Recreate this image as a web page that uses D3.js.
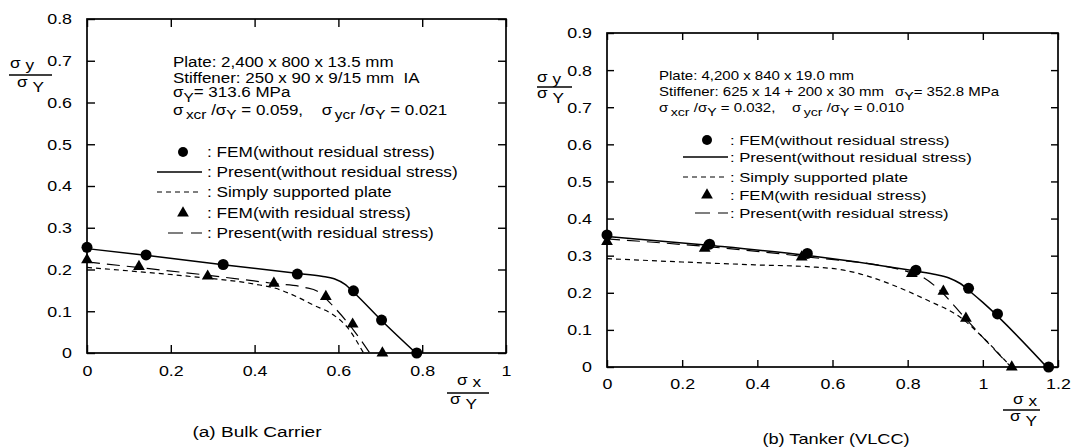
<!DOCTYPE html>
<html>
<head>
<meta charset="utf-8">
<script src="https://cdn.jsdelivr.net/npm/d3@7"></script>
<style>
  body { margin: 0; background: #fff; }
  svg text { white-space: pre; }
</style>
</head>
<body>
<svg id="chart" width="1072" height="448"></svg>
<script>
// ---- data ----
const xTicksA = [0, 0.2, 0.4, 0.6, 0.8, 1];
const yTicksA = [0, 0.1, 0.2, 0.3, 0.4, 0.5, 0.6, 0.7, 0.8];
const xTicksB = [0, 0.2, 0.4, 0.6, 0.8, 1, 1.2];
const yTicksB = [0, 0.1, 0.2, 0.3, 0.4, 0.5, 0.6, 0.7, 0.8, 0.9];

// (a) Bulk carrier
const femNoResA = [[0, 0.253], [0.141, 0.235], [0.325, 0.212], [0.502, 0.189], [0.636, 0.149], [0.703, 0.079], [0.787, 0]];
const presentNoResA = [[0, 0.25], [0.14, 0.234], [0.33, 0.211], [0.5, 0.191], [0.56, 0.184], [0.59, 0.178], [0.615, 0.165], [0.64, 0.142], [0.7, 0.081], [0.785, 0]];
const femResA = [[0, 0.223], [0.124, 0.207], [0.288, 0.184], [0.446, 0.167], [0.57, 0.135], [0.634, 0.069], [0.705, 0]];
const presentResA = [[0, 0.218], [0.13, 0.204], [0.29, 0.186], [0.45, 0.166], [0.52, 0.157], [0.55, 0.148], [0.58, 0.12], [0.636, 0.055], [0.675, 0]];
const simplyA = [[0, 0.205], [0.12, 0.195], [0.25, 0.183], [0.4, 0.165], [0.45, 0.155], [0.5, 0.135], [0.54, 0.115], [0.59, 0.09], [0.62, 0.063], [0.66, 0]];

// (b) Tanker (VLCC)
const femNoResB = [[0, 0.356], [0.273, 0.331], [0.533, 0.306], [0.822, 0.261], [0.962, 0.212], [1.039, 0.143], [1.175, 0]];
const presentNoResB = [[0, 0.352], [0.27, 0.328], [0.53, 0.301], [0.8, 0.262], [0.87, 0.25], [0.91, 0.24], [0.94, 0.225], [0.97, 0.2], [1.0, 0.174], [1.17, 0]];
const femResB = [[0, 0.338], [0.26, 0.32], [0.518, 0.296], [0.811, 0.252], [0.895, 0.204], [0.955, 0.131], [1.077, 0]];
const presentResB = [[0, 0.345], [0.26, 0.325], [0.52, 0.298], [0.8, 0.257], [0.84, 0.242], [0.88, 0.212], [0.95, 0.135], [1.0, 0.08], [1.075, 0]];
const simplyB = [[0, 0.292], [0.2, 0.283], [0.4, 0.275], [0.54, 0.27], [0.63, 0.261], [0.7, 0.243], [0.76, 0.221], [0.85, 0.181], [0.94, 0.134], [1.01, 0.07], [1.075, 0]];

const FONT = "'Liberation Sans', Arial, Helvetica, sans-serif";
const SX = 1.23;   // the scanned lettering is wider than the font
const INK = '#000';

const svg = d3.select('#chart');
svg.append('rect').attr('width', 1072).attr('height', 448).attr('fill', '#fff');

// text with sub/superscript parts
function label(x, y, parts, size, anchor) {
  const t = svg.append('text')
    .attr('transform', `translate(${x},${y}) scale(${SX},1)`)
    .attr('font-family', FONT)
    .attr('font-size', size)
    .attr('text-anchor', anchor || 'start')
    .attr('fill', INK);
  parts.forEach(p => {
    if (typeof p === 'string') t.append('tspan').text(p);
    else t.append('tspan')
      .attr('dy', p.dy || 0)
      .attr('dx', p.dx || 0)
      .attr('font-size', p.size || size)
      .text(p.t);
  });
  return t;
}

function drawPanel(cfg) {
  const x = d3.scaleLinear().domain(cfg.xDomain).range([cfg.left, cfg.right]);
  const y = d3.scaleLinear().domain(cfg.yDomain).range([cfg.bottom, cfg.top]);
  const g = svg.append('g');

  const inner = cfg.tick;
  const styleAxis = sel => {
    sel.select('.domain').remove();
    sel.selectAll('line').attr('stroke', INK).attr('stroke-width', 1.4);
  };

  g.append('g').attr('transform', `translate(0,${cfg.bottom})`)
    .call(d3.axisBottom(x).tickValues(cfg.xTicks).tickSize(-inner).tickFormat(d => d))
    .call(styleAxis)
    .call(s => s.selectAll('text')
      .attr('font-family', FONT).attr('font-size', 14.5).attr('fill', INK)
      .attr('y', cfg.xLabelGap).attr('dy', '0.71em')
      .attr('transform', `scale(${SX},1)`));

  g.append('g').attr('transform', `translate(${cfg.left},0)`)
    .call(d3.axisLeft(y).tickValues(cfg.yTicks).tickSize(-inner).tickFormat(d => d))
    .call(styleAxis)
    .call(s => s.selectAll('text')
      .attr('font-family', FONT).attr('font-size', 14.5).attr('fill', INK)
      .attr('x', -15 / SX).attr('dy', '0.34em')
      .attr('transform', `scale(${SX},1)`));

  g.append('g').attr('transform', `translate(0,${cfg.top})`)
    .call(d3.axisTop(x).tickValues(cfg.xTicks).tickSize(-inner).tickFormat(''))
    .call(styleAxis);

  g.append('g').attr('transform', `translate(${cfg.right},0)`)
    .call(d3.axisRight(y).tickValues(cfg.yTicks).tickSize(-inner).tickFormat(''))
    .call(styleAxis);

  g.append('rect')
    .attr('x', cfg.left).attr('y', cfg.top)
    .attr('width', cfg.right - cfg.left).attr('height', cfg.bottom - cfg.top)
    .attr('fill', 'none').attr('stroke', INK).attr('stroke-width', 1.7);

  const line = d3.line().x(d => x(d[0])).y(d => y(d[1])).curve(d3.curveMonotoneX);

  g.append('path').datum(cfg.simply).attr('d', line)
    .attr('fill', 'none').attr('stroke', INK).attr('stroke-width', 1.2).attr('stroke-dasharray', '5,4');
  g.append('path').datum(cfg.presentRes).attr('d', line)
    .attr('fill', 'none').attr('stroke', INK).attr('stroke-width', 1.2).attr('stroke-dasharray', '13,7');
  g.append('path').datum(cfg.presentNoRes).attr('d', line)
    .attr('fill', 'none').attr('stroke', INK).attr('stroke-width', 1.5);

  g.selectAll('.fem').data(cfg.femNoRes).enter().append('circle')
    .attr('class', 'fem')
    .attr('cx', d => x(d[0])).attr('cy', d => y(d[1]))
    .attr('r', 5.5).attr('fill', INK);

  const tri = d3.symbol(d3.symbolTriangle, 60);
  g.selectAll('.femres').data(cfg.femRes).enter().append('path')
    .attr('class', 'femres')
    .attr('d', tri)
    .attr('transform', d => `translate(${x(d[0])},${y(d[1])})`)
    .attr('fill', INK);

  // legend
  const L = cfg.legend;
  const textSize = cfg.legendSize;
  g.append('circle').attr('cx', L.mark).attr('cy', L.rows[0]).attr('r', 5).attr('fill', INK);
  g.append('line').attr('x1', L.lineFrom).attr('x2', L.lineTo).attr('y1', L.rows[1]).attr('y2', L.rows[1])
    .attr('stroke', INK).attr('stroke-width', 1.3);
  g.append('line').attr('x1', L.lineFrom).attr('x2', L.lineTo).attr('y1', L.rows[2]).attr('y2', L.rows[2])
    .attr('stroke', INK).attr('stroke-width', 1.2).attr('stroke-dasharray', '5,4');
  g.append('path').attr('d', tri).attr('transform', `translate(${L.mark},${L.rows[3]})`).attr('fill', INK);
  g.append('line').attr('x1', L.longFrom).attr('x2', L.lineTo).attr('y1', L.rows[4]).attr('y2', L.rows[4])
    .attr('stroke', INK).attr('stroke-width', 1.2).attr('stroke-dasharray', '15,8');

  const names = [': FEM(without residual stress)', ': Present(without residual stress)',
    ': Simply supported plate', ': FEM(with residual stress)', ': Present(with residual stress)'];
  names.forEach((n, i) => label(L.text, L.rows[i] + 5, [n], textSize));

  return { x, y };
}

drawPanel({
  xDomain: [0, 1], yDomain: [0, 0.8],
  left: 87, right: 506, top: 19, bottom: 353, tick: 8, xLabelGap: 13,
  xTicks: xTicksA, yTicks: yTicksA,
  femNoRes: femNoResA, presentNoRes: presentNoResA, femRes: femResA, presentRes: presentResA, simply: simplyA,
  legendSize: 14,
  legend: { mark: 183, lineFrom: 157, lineTo: 202, longFrom: 168, text: 207, rows: [152, 172, 192, 213, 233] }
});

drawPanel({
  xDomain: [0, 1.2], yDomain: [0, 0.9],
  left: 607, right: 1058, top: 33, bottom: 367, tick: 7, xLabelGap: 12,
  xTicks: xTicksB, yTicks: yTicksB,
  femNoRes: femNoResB, presentNoRes: presentNoResB, femRes: femResB, presentRes: presentResB, simply: simplyB,
  legendSize: 13.5,
  legend: { mark: 707, lineFrom: 683, lineTo: 728, longFrom: 695, text: 730, rows: [140, 157, 177, 195, 213] }
});

// ---- panel (a) notes ----
label(173, 67, ['Plate: 2,400 x 800 x 13.5 mm'], 13.8);
label(173, 83, ['Stiffener: 250 x 90 x 9/15 mm  IA'], 13.8);
label(173, 97, ['σ', { t: 'Y', dy: 5, size: 12.5 }, { t: '= 313.6 MPa', dy: -5 }], 13.8);
label(173, 115, ['σ', { t: 'xcr', dy: 4, dx: 2, size: 12.5 }, { t: ' /σ', dy: -4 }, { t: 'Y', dy: 4, size: 12.5 },
  { t: ' = 0.059,    σ', dy: -4 }, { t: 'ycr', dy: 4, dx: 2, size: 12.5 }, { t: ' /σ', dy: -4 }, { t: 'Y', dy: 4, size: 12.5 },
  { t: ' = 0.021', dy: -4 }], 13.8);

// ---- panel (b) notes ----
label(659, 80, ['Plate: 4,200 x 840 x 19.0 mm'], 12.2);
label(659, 96, ['Stiffener: 625 x 14 + 200 x 30 mm'], 12.2);
label(895, 96, ['σ', { t: 'Y', dy: 4, size: 11.5 }, { t: '= 352.8 MPa', dy: -4 }], 12.2);
label(659, 112, ['σ', { t: 'xcr', dy: 4, dx: 2, size: 11.5 }, { t: ' /σ', dy: -4 }, { t: 'Y', dy: 4, size: 11.5 },
  { t: ' = 0.032,    σ', dy: -4 }, { t: 'ycr', dy: 4, dx: 2, size: 11.5 }, { t: ' /σ', dy: -4 }, { t: 'Y', dy: 4, size: 11.5 },
  { t: ' = 0.010', dy: -4 }], 12.2);

// ---- axis fraction labels ----
function frac(x1, x2, yLine, topX, topY, topSub, botX, botY) {
  svg.append('line').attr('x1', x1).attr('x2', x2).attr('y1', yLine).attr('y2', yLine)
    .attr('stroke', INK).attr('stroke-width', 1.3);
  label(topX, topY, ['σ', { t: ' ' + topSub, dy: 2, size: 14 }], 14);
  label(botX, botY, ['σ', { t: ' Y', dy: 5, size: 14 }], 14);
}
frac(9, 52, 75, 10, 68, 'y', 17, 87);
frac(537, 572, 87, 537, 82, 'y', 537, 98);
frac(447, 489, 393, 457, 385, 'x', 450, 404);
frac(1003, 1040, 410, 1013, 404, 'x', 1010, 421);

// ---- captions ----
label(257, 437, ['(a) Bulk Carrier'], 15.5, 'middle');
label(836, 444, ['(b) Tanker (VLCC)'], 14.8, 'middle');
</script>
</body>
</html>
